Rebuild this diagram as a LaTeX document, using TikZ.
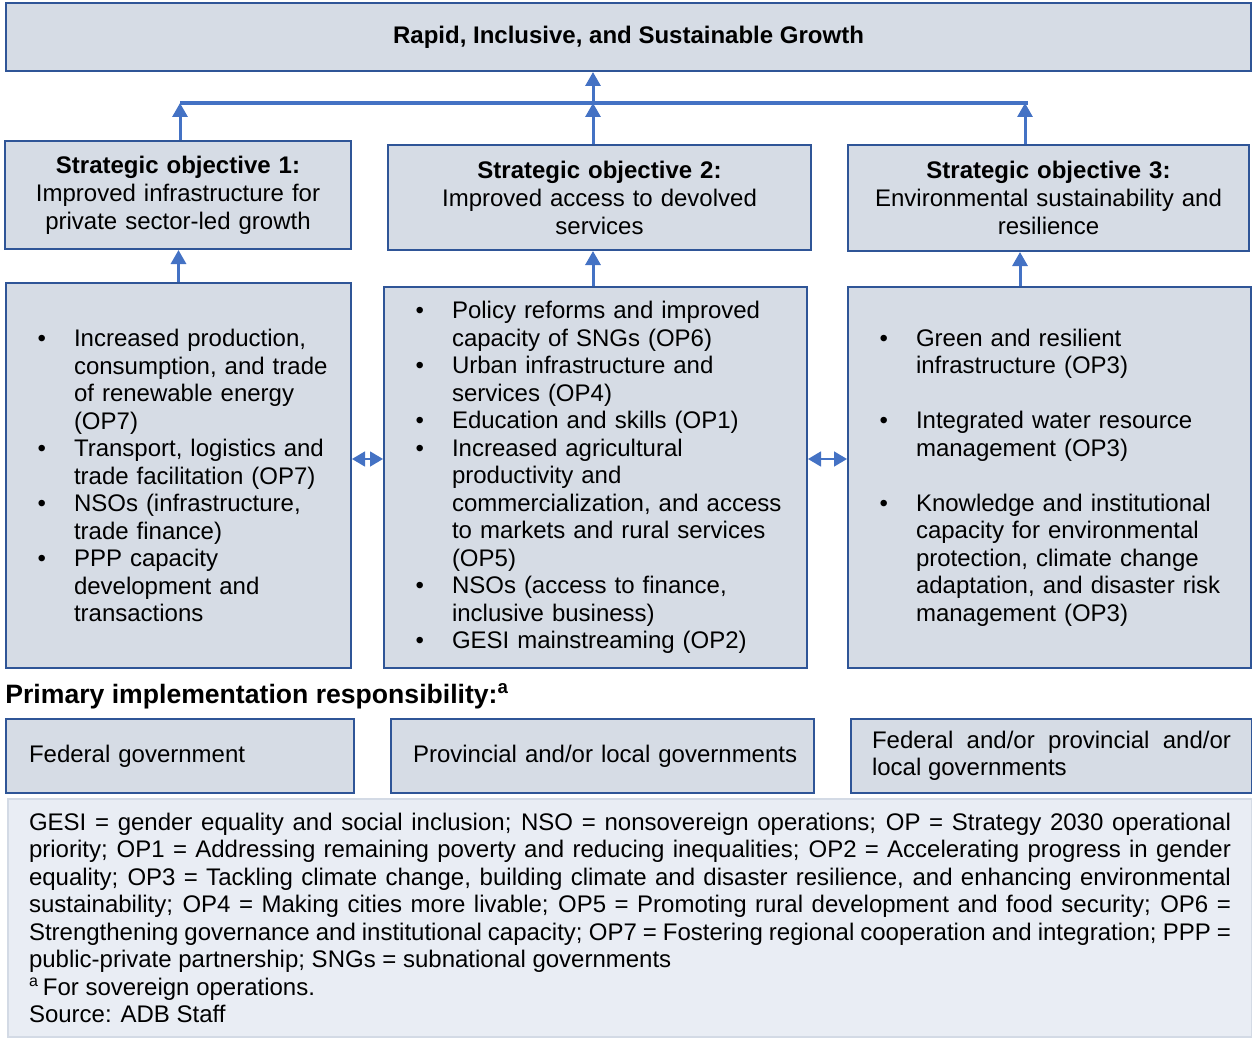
\documentclass[tikz,border=0pt]{standalone}
\usepackage{fontspec}
\setmainfont{Liberation Sans}
\usetikzlibrary{arrows.meta}
\usetikzlibrary{positioning}

\definecolor{boxfill}{HTML}{D6DCE5}
\definecolor{boxline}{HTML}{2F5597}
\definecolor{arrowblue}{HTML}{4472C4}
\definecolor{notefill}{HTML}{E9EDF4}
\definecolor{noteline}{HTML}{D3DAE5}

\newlength\opgap
\newenvironment{oplist}{\begin{list}{\textbullet}{\setlength\leftmargin{34pt}%
  \setlength\labelsep{14pt}\setlength\labelwidth{10pt}\setlength\rightmargin{0pt}%
  \setlength\itemsep{\opgap}\setlength\parsep{0pt}\setlength\topsep{0pt}%
  \setlength\partopsep{0pt}}}{\end{list}\par\kern5pt}

\begin{document}
\begin{tikzpicture}[x=0.5pt,y=-0.5pt,font=\fontsize{12}{13.75}\selectfont,
	main box/.style={draw=boxline,fill=boxfill,line width=1pt,anchor=north west,inner sep=0pt},
	obj box/.style={main box,align=center,font=\fontsize{12}{14}\selectfont},
	list box/.style={main box,align=left},
	resp box/.style={main box,inner xsep=11.5pt,align=left},
	up/.style={draw=arrowblue,line width=1.5pt,-{Triangle[length=7pt,width=7.5pt]}},
	both/.style={draw=arrowblue,line width=0.75pt,{Triangle[length=6.5pt,width=7.5pt]}-{Triangle[length=6.5pt,width=7.5pt]}}]

	\useasboundingbox (0,0) rectangle (1252,1038);

	\node[main box,minimum width=622.5pt,minimum height=34pt] (goal) at (5,2) {\bfseries Rapid, Inclusive, and Sustainable Growth};

	\node[obj box,text width=173pt,minimum height=54pt] (so1) at (4,140)
		{\textbf{Strategic objective 1:}\\Improved infrastructure for\\private sector-led growth};
	\node[obj box,text width=211.5pt,minimum height=52.5pt] (so2) at (387,144)
		{\textbf{Strategic objective 2:}\\Improved access to devolved\\services};
	\node[obj box,text width=200.5pt,minimum height=53pt] (so3) at (847,144)
		{\textbf{Strategic objective 3:}\\Environmental sustainability and\\resilience};

	\node[list box,text width=172.5pt,minimum height=192.5pt] (b1) at (5,282) {%
		\begin{oplist}
		\item Increased production,\\consumption, and trade\\of renewable energy\\(OP7)
		\item Transport, logistics and\\trade facilitation (OP7)
		\item NSOs (infrastructure,\\trade finance)
		\item PPP capacity\\development and\\transactions
		\end{oplist}};
	\node[list box,text width=211.5pt,minimum height=190.5pt] (b2) at (383,286) {%
		\begin{oplist}
		\item Policy reforms and improved\\capacity of SNGs (OP6)
		\item Urban infrastructure and\\services (OP4)
		\item Education and skills (OP1)
		\item Increased agricultural\\productivity and\\commercialization, and access\\to markets and rural services\\(OP5)
		\item NSOs (access to finance,\\inclusive business)
		\item GESI mainstreaming (OP2)
		\end{oplist}};
	\node[list box,text width=201.5pt,minimum height=190.5pt] (b3) at (847,286) {%
		\setlength\opgap{13.75pt}%
		\begin{oplist}
		\item Green and resilient\\infrastructure (OP3)
		\item Integrated water resource\\management (OP3)
		\item Knowledge and institutional\\capacity for environmental\\protection, climate change\\adaptation, and disaster risk\\management (OP3)
		\end{oplist}};

	\node[anchor=west,inner sep=0pt,font=\fontsize{13.3}{15}\selectfont\bfseries] (head) at (5,696)
		{Primary implementation responsibility:\textsuperscript{a}};

	\node[resp box,text width=151pt,minimum height=37pt] (r1) at (5,718) {Federal government};
	\node[resp box,inner xsep=11pt,text width=189.5pt,minimum height=37pt] (r2) at (390,718) {\mbox{Provincial and/or local governments}};
	\node[resp box,align=justify,inner xsep=10.5pt,text width=179.5pt,minimum height=37pt] (r3) at (850,718)
		{Federal and/or provincial and/or\linebreak local governments};

	\node[anchor=north west,draw=noteline,fill=notefill,line width=1pt,inner xsep=10.5pt,inner ysep=0pt,
		text width=601pt,minimum height=119pt,align=justify] (notes) at (7,798) {%
		GESI = gender equality and social inclusion; NSO = nonsovereign operations; OP = Strategy 2030 operational\linebreak
		priority; OP1 = Addressing remaining poverty and reducing inequalities; OP2 = Accelerating progress in gender\linebreak
		equality; OP3 = Tackling climate change, building climate and disaster resilience, and enhancing environmental\linebreak
		sustainability; OP4 = Making cities more livable; OP5 = Promoting rural development and food security; OP6 =\linebreak
		Strengthening governance and institutional capacity; OP7 = Fostering regional cooperation and integration; PPP =\linebreak
		public-private partnership; SNGs = subnational governments\par
		\textsuperscript{a}\,For sovereign operations.\par
		Source: ADB Staff};

	\coordinate (barl) at (180,103);
	\coordinate (barm) at (593,103);
	\coordinate (barr) at (1028,103);
	\coordinate (so3in) at (1025,103);
	\coordinate (b3out) at (1020,0);
	\coordinate (link) at (0,459);

	\draw[arrowblue,line width=2pt] (barl) -- (barr);
	\path (barm) edge[up] (barm |- goal.south)
		(barl |- so1.north) edge[up] (barl)
		(barm |- so2.north) edge[up] (barm)
		(so3in |- so3.north) edge[up] (so3in);
	\path (b1.north) edge[up] (b1.north |- so1.south)
		(barm |- b2.north) edge[up] (barm |- so2.south)
		(b3out |- b3.north) edge[up] (b3out |- so3.south);
	\path (b1.east |- link) edge[both] (b2.west |- link)
		(b2.east |- link) edge[both] (b3.west |- link);
\end{tikzpicture}
\end{document}
